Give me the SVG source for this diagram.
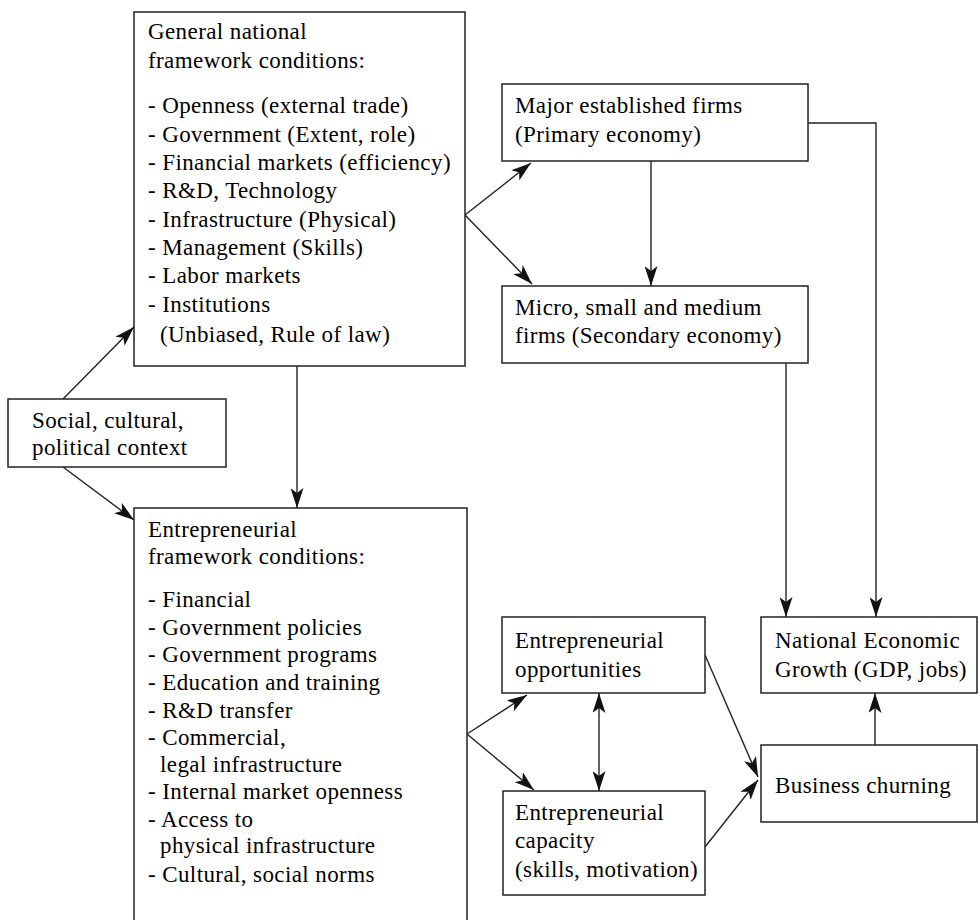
<svg xmlns="http://www.w3.org/2000/svg" width="979" height="920" viewBox="0 0 979 920">
<style>
.box{fill:#fff;stroke:#222;stroke-width:1.5}
.t{font-family:"Liberation Serif","Times New Roman",serif;font-size:23px;letter-spacing:0.4px;fill:#000}
.c{fill:none;stroke:#222;stroke-width:1.4}
</style>
<defs>
<marker id="ah" markerUnits="userSpaceOnUse" markerWidth="20" markerHeight="13" refX="20" refY="6.5" orient="auto-start-reverse" viewBox="0 0 20 13">
<path d="M0,0 L20,6.5 L0,13 L5,6.5 z" fill="#111"/>
</marker>
</defs>
<rect width="979" height="920" fill="#fff"/>
<g id="connectors">
<line class="c" x1="63" y1="399" x2="134" y2="327" marker-end="url(#ah)"/>
<line class="c" x1="63" y1="467" x2="134" y2="520" marker-end="url(#ah)"/>
<line class="c" x1="465" y1="215" x2="531" y2="163" marker-end="url(#ah)"/>
<line class="c" x1="465" y1="215" x2="532" y2="284" marker-end="url(#ah)"/>
<line class="c" x1="651" y1="161" x2="651" y2="286" marker-end="url(#ah)"/>
<polyline class="c" points="808,123 876,123 876,617" marker-end="url(#ah)"/>
<line class="c" x1="786" y1="363" x2="786" y2="617" marker-end="url(#ah)"/>
<line class="c" x1="297" y1="366" x2="297" y2="508" marker-end="url(#ah)"/>
<line class="c" x1="467" y1="734" x2="527" y2="695" marker-end="url(#ah)"/>
<line class="c" x1="467" y1="734" x2="534" y2="790" marker-end="url(#ah)"/>
<line class="c" x1="599" y1="693" x2="599" y2="791" marker-start="url(#ah)" marker-end="url(#ah)"/>
<line class="c" x1="705" y1="655" x2="758" y2="777" marker-end="url(#ah)"/>
<line class="c" x1="705" y1="847" x2="758" y2="780" marker-end="url(#ah)"/>
<line class="c" x1="875" y1="745" x2="875" y2="693" marker-end="url(#ah)"/>
</g>
<g id="general-national">
<rect class="box" x="134" y="12" width="331" height="354"/>
<text class="t" x="148" y="39">General national</text>
<text class="t" x="148" y="68">framework conditions:</text>
<text class="t" x="148" y="113">- Openness (external trade)</text>
<text class="t" x="148" y="142">- Government (Extent, role)</text>
<text class="t" x="148" y="170">- Financial markets (efficiency)</text>
<text class="t" x="148" y="198">- R&amp;D, Technology</text>
<text class="t" x="148" y="227">- Infrastructure (Physical)</text>
<text class="t" x="148" y="255">- Management (Skills)</text>
<text class="t" x="148" y="283">- Labor markets</text>
<text class="t" x="148" y="312">- Institutions</text>
<text class="t" x="160" y="342">(Unbiased, Rule of law)</text>
</g>
<g id="major-firms">
<rect class="box" x="502" y="84" width="306" height="77"/>
<text class="t" x="515" y="113">Major established firms</text>
<text class="t" x="515" y="142">(Primary economy)</text>
</g>
<g id="micro-firms">
<rect class="box" x="502" y="286" width="306" height="77"/>
<text class="t" x="515" y="315">Micro, small and medium</text>
<text class="t" x="515" y="343">firms (Secondary economy)</text>
</g>
<g id="social">
<rect class="box" x="8" y="399" width="218" height="68"/>
<text class="t" x="32" y="428">Social, cultural,</text>
<text class="t" x="32" y="455">political context</text>
</g>
<g id="entrepreneurial-framework">
<rect class="box" x="134" y="508" width="333" height="420"/>
<text class="t" x="148" y="537">Entrepreneurial</text>
<text class="t" x="148" y="564">framework conditions:</text>
<text class="t" x="148" y="607">- Financial</text>
<text class="t" x="148" y="635">- Government policies</text>
<text class="t" x="148" y="662">- Government programs</text>
<text class="t" x="148" y="690">- Education and training</text>
<text class="t" x="148" y="718">- R&amp;D transfer</text>
<text class="t" x="148" y="745">- Commercial,</text>
<text class="t" x="160" y="772">legal infrastructure</text>
<text class="t" x="148" y="799">- Internal market openness</text>
<text class="t" x="148" y="827">- Access to</text>
<text class="t" x="160" y="853">physical infrastructure</text>
<text class="t" x="148" y="882">- Cultural, social norms</text>
</g>
<g id="opportunities">
<rect class="box" x="502" y="617" width="203" height="76"/>
<text class="t" x="515" y="648">Entrepreneurial</text>
<text class="t" x="515" y="677">opportunities</text>
</g>
<g id="capacity">
<rect class="box" x="503" y="791" width="202" height="104"/>
<text class="t" x="515" y="820">Entrepreneurial</text>
<text class="t" x="515" y="848">capacity</text>
<text class="t" x="515" y="877">(skills, motivation)</text>
</g>
<g id="growth">
<rect class="box" x="761" y="617" width="216" height="76"/>
<text class="t" x="775" y="648">National Economic</text>
<text class="t" x="775" y="677">Growth (GDP, jobs)</text>
</g>
<g id="churning">
<rect class="box" x="761" y="745" width="216" height="77"/>
<text class="t" x="775" y="793">Business churning</text>
</g>
</svg>
